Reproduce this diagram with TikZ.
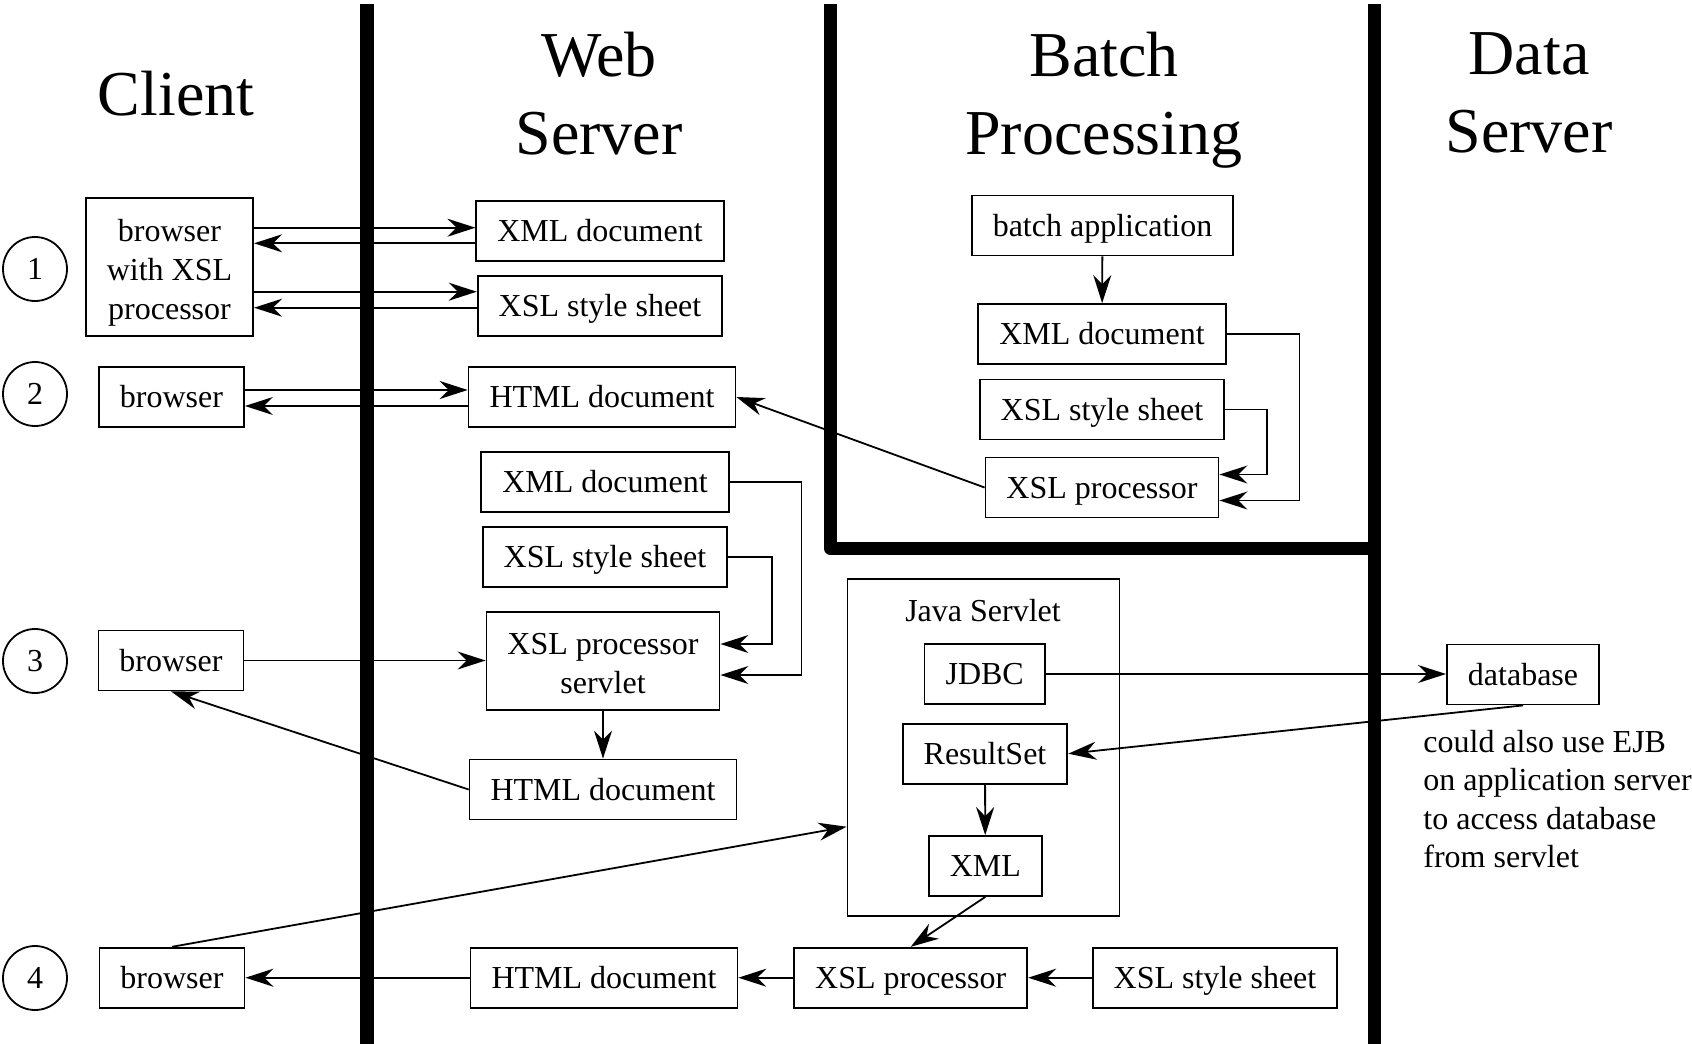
\documentclass[tikz,border=0pt]{standalone}
\usepackage{fontspec}
\setmainfont{Liberation Serif}
\usetikzlibrary{arrows.meta,calc}
\newcommand{\firstline}[1]{\rule{0pt}{#1}}
\tikzset{
    tier/.style={line width=6.75pt, line join=round},
    tier title/.style={align=center, inner sep=0pt, font=\fontsize{32}{39}\selectfont},
    raw box/.style={rectangle, draw, line width=0.9pt, align=center, inner xsep=10.5pt, font=\fontsize{16}{19.5}\selectfont},
    box/.style={raw box, minimum height=30pt, text height=12.8pt, text depth=2pt},
    tall box/.style={raw box, minimum height=#1},
    stage/.style={circle, draw, line width=0.9pt, minimum size=32pt, inner sep=0pt, font=\fontsize{16}{19.5}\selectfont},
    flow/.style={-{Stealth[length=14pt, width=9pt]}, line width=0.9pt},
    note/.style={align=left, inner sep=0pt, font=\fontsize{16}{19.2}\selectfont}
}

\begin{document}
\begin{tikzpicture}[x=0.5pt, y=-0.5pt]
    \useasboundingbox (0,0) rectangle (1692,1044);

    % tiers
    \draw[tier] (367,4) -- (367,1044);
    \draw[tier] (830.7,4) -- (830.7,548.5) -- (1374.7,548.5);
    \draw[tier] (1374.7,4) -- (1374.7,1044);

    \node[tier title] (tclient) at (176,94) {Client};
    \node[tier title, anchor=north] (tweb) at (599,32) {Web\\Server};
    \node[tier title, anchor=north] (tbatch) at (1104,32) {Batch\\Processing};
    \node[tier title, anchor=north] (tdata) at (1529,32) {Data\\Server};

    % scenarios
    \node[stage] (c1) at (35,269) {1};
    \node[stage] (c2) at (35,394) {2};
    \node[stage] (c3) at (35,661) {3};
    \node[stage] (c4) at (35,978) {4};

    % 1: XSL in the browser
    \node[tall box=69pt] (b1) at (169.5,267) {\firstline{16.7pt}browser\\with XSL\\processor};
    \node[box] (x1) at (600,230.7) {XML document};
    \node[box] (s1) at (600,306) {XSL style sheet};
    \draw[flow] ($(b1.east |- x1.west)+(0,-3)$) -- ($(x1.west)+(0,-3)$);
    \draw[flow] ($(x1.west)+(0,12.6)$) -- ($(b1.east |- x1.west)+(0,12.6)$);
    \draw[flow] ($(b1.east |- s1.west)+(0,-14.3)$) -- ($(s1.west)+(0,-14.3)$);
    \draw[flow] ($(s1.west)+(0,1.7)$) -- ($(b1.east |- s1.west)+(0,1.7)$);

    % 2: batch generated HTML
    \node[box] (b2) at (171.5,397) {browser};
    \node[box] (h2) at (602,397) {HTML document};
    \draw[flow] ($(b2.east |- h2.west)+(0,-7)$) -- ($(h2.west)+(0,-7)$);
    \draw[flow] ($(h2.west)+(0,9)$) -- ($(b2.east |- h2.west)+(0,9)$);

    \node[box] (ba) at (1102.5,225.5) {batch application};
    \node[box] (bx) at (1102,334) {XML document};
    \node[box] (bs) at (1102,409.5) {XSL style sheet};
    \node[box] (bp) at (1102,487.5) {XSL processor};
    \draw[flow] (ba) -- (bx);
    \draw[flow] (bx.east) -- ++(73,0) |- ($(bp.east)+(0,13)$);
    \draw[flow] (bs.east) -- ++(42,0) |- ($(bp.east)+(0,-13)$);
    \draw[flow] (bp.west) -- (h2.east);

    % 3: XSL servlet
    \node[box] (x3) at (605,482) {XML document};
    \node[box] (s3) at (605,557) {XSL style sheet};
    \node[tall box=49pt] (p3) at (603,661) {\firstline{13.1pt}XSL processor\\servlet};
    \node[box] (h3) at (603,789.5) {HTML document};
    \node[box] (b3) at (171,660.5) {browser};
    \draw[flow] (x3.east) -- ++(72,0) |- ($(p3.east)+(0,14)$);
    \draw[flow] (s3.east) -- ++(44,0) |- ($(p3.east)+(0,-17)$);
    \draw[flow] (b3.east) -- (b3.east -| p3.west);
    \draw[flow] (p3) -- (h3);
    \draw[flow] (h3.west) -- (b3.south);

    % 4: servlet with database
    \node[draw, line width=0.9pt, minimum width=136pt, minimum height=168.5pt] (js) at (983.5,747.7) {};
    \node[font=\fontsize{16}{19.5}\selectfont, anchor=base] (jst) at (983,621.7) {Java Servlet};
    \node[box] (jd) at (984.7,674) {JDBC};
    \node[box] (rs) at (985,753.7) {ResultSet};
    \node[box] (xm) at (985.3,866) {XML};
    \node[box] (db) at (1523,674.5) {database};
    \node[note, anchor=west] (nt) at (1423,799) {could also use EJB\\on application server\\to access database\\from servlet};

    \node[box] (b4) at (172,977.7) {browser};
    \node[box] (h4) at (604,977.7) {HTML document};
    \node[box] (p4) at (910.7,977.7) {XSL processor};
    \node[box] (s4) at (1215,977.7) {XSL style sheet};

    \draw[flow] (jd) -- (jd -| db.west);
    \draw[flow] (db.south) -- (rs.east);
    \draw[flow] (rs) -- (xm);
    \draw[flow] (xm.south) -- (p4.north);
    \draw[flow] (b4.north) -- ($(js.west)+(0,79)$);
    \draw[flow] (s4) -- (p4);
    \draw[flow] (p4) -- (h4);
    \draw[flow] (h4) -- (b4);
\end{tikzpicture}
\end{document}
